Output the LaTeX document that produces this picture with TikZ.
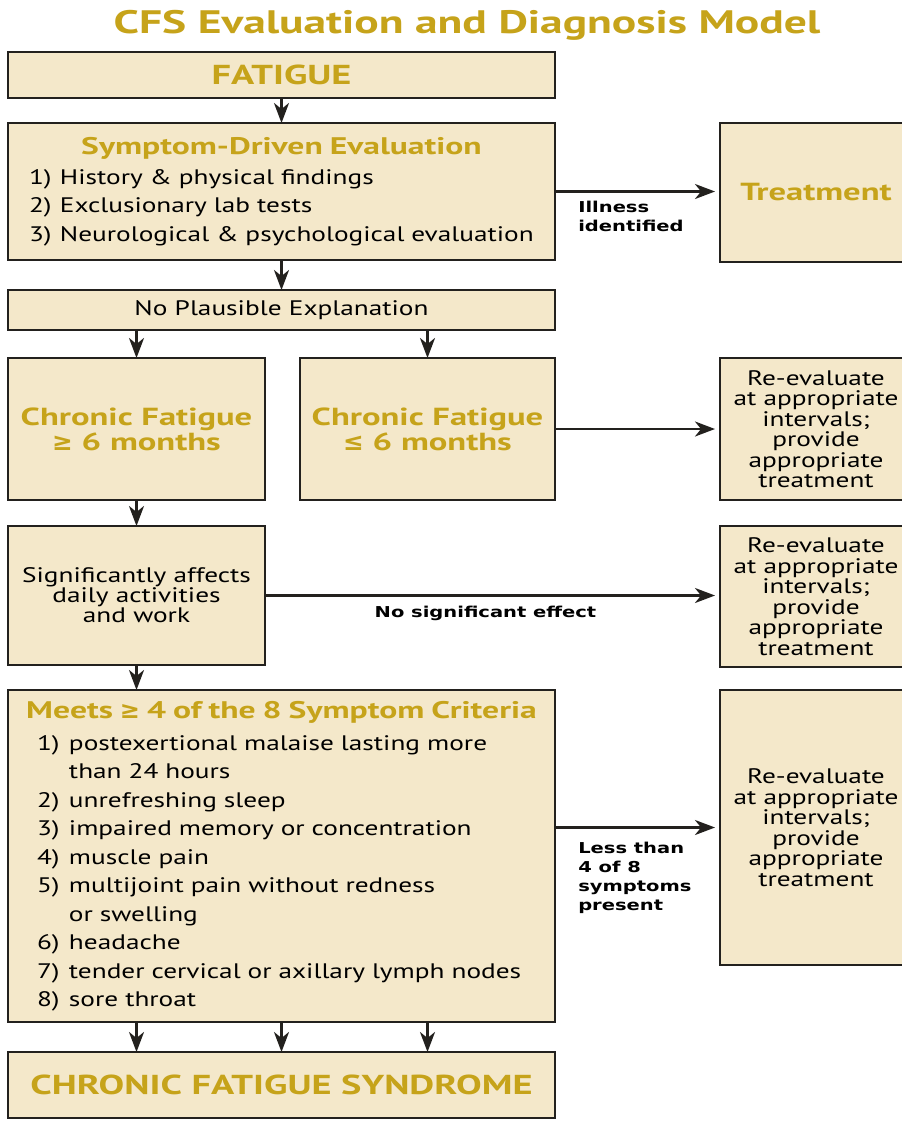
\documentclass[tikz,border=0pt]{standalone}
\usepackage{fontspec}
\setmainfont{PT Sans}[UprightFeatures={FakeStretch=1.3}, BoldFeatures={FakeStretch=1.4}]
\newfontfamily\notefont{DejaVu Sans}[FakeStretch=1.3]
\newfontfamily\symfont{DejaVu Sans}
\usetikzlibrary{positioning,arrows.meta}
\definecolor{boxfill}{RGB}{244,232,202}
\definecolor{gold}{RGB}{198,163,26}
\definecolor{edge}{RGB}{35,33,30}
\newcommand{\hd}[1]{{\color{gold}\bfseries\fontsize{24}{26}\selectfont #1}}
\newcommand{\sitem}[2]{\hspace*{10pt}\makebox[31pt][l]{#1}#2}
\newcommand{\citem}[2]{\hspace*{18pt}\makebox[32pt][l]{#1}#2}

\begin{document}
\begin{tikzpicture}[x=1pt, y=-1pt, line width=2.5pt,
  box/.style = {draw=edge, fill=boxfill, inner sep=0pt, outer sep=0pt, minimum width=547pt},
  half/.style = {box, minimum width=257pt, minimum height=142pt},
  side/.style = {box, minimum width=192pt, align=center, font=\fontsize{21}{20.5}\selectfont},
  head/.style = {text=gold, font=\bfseries\fontsize{24.7}{25}\selectfont},
  big/.style = {text=gold, font=\bfseries\fontsize{27.4}{30}\selectfont},
  list/.style = {text width=525pt, align=left, font=\fontsize{21}{28.5}\selectfont},
  note/.style = {inner sep=0pt, align=left, font=\notefont\bfseries\fontsize{15}{19}\selectfont},
  arr/.style = {draw=edge, -{Stealth[length=20pt, width=15pt, inset=6pt]}}]
	\useasboundingbox[fill=white] (0,0) rectangle (902,1122);

	\node[text=gold, font=\bfseries\fontsize{32.5}{34}\selectfont, anchor=base] (1) at (467,33) {CFS Evaluation and Diagnosis Model};
	\node[box, big, minimum height=46pt, anchor=north west] (2) at (8,52) {FATIGUE};
	\node[box, list, minimum height=137pt] (3) [below=25pt of 2] {\makebox[\linewidth]{\hd{Symptom-Driven Evaluation}}\\[1.5pt]
		\sitem{1)}{History \& physical findings}\\
		\sitem{2)}{Exclusionary lab tests}\\
		\sitem{3)}{Neurological \& psychological evaluation}};
	\node[box, minimum height=40pt, font=\fontsize{21}{24}\selectfont] (4) [below=30pt of 3] {No Plausible Explanation};
	\node[half, head, align=center] (5) [below=28pt of 4.south west, anchor=north west] {Chronic Fatigue\\{\symfont\bfseries ≥} 6 months};
	\node[half, head, align=center, minimum width=255pt] (6) [below=28pt of 4.south east, anchor=north east] {Chronic Fatigue\\{\symfont\bfseries ≤} 6 months};
	\node[side, head, minimum height=139pt] (7) [right=165pt of 3.north east, anchor=north west] {Treatment};
	\node[side, minimum height=142pt] (8) [right=165pt of 6.north east, anchor=north west] {Re-evaluate\\at appropriate\\intervals;\\provide\\appropriate\\treatment};
	\node[half, align=center, minimum height=139pt, font=\fontsize{21}{20}\selectfont] (9) [below=26pt of 5] {Significantly affects\\daily activities\\and work};
	\node[side, minimum height=141pt] (10) [right=455pt of 9.north east, anchor=north west] {Re-evaluate\\at appropriate\\intervals;\\provide\\appropriate\\treatment};
	\node[box, list, minimum height=332pt] (11) [below=25pt of 9.south west, anchor=north west] {\makebox[\linewidth]{\hd{Meets {\symfont ≥} 4 of the 8 Symptom Criteria}}\\[3.5pt]
		\citem{1)}{postexertional malaise lasting more}\\
		\citem{}{than 24 hours}\\
		\citem{2)}{unrefreshing sleep}\\
		\citem{3)}{impaired memory or concentration}\\
		\citem{4)}{muscle pain}\\
		\citem{5)}{multijoint pain without redness}\\
		\citem{}{or swelling}\\
		\citem{6)}{headache}\\
		\citem{7)}{tender cervical or axillary lymph nodes}\\
		\citem{8)}{sore throat}};
	\node[side, minimum height=275pt] (12) [right=165pt of 11.north east, anchor=north west] {Re-evaluate\\at appropriate\\intervals;\\provide\\appropriate\\treatment};
	\node[box, big, minimum height=66pt] (13) [below=30pt of 11] {CHRONIC FATIGUE SYNDROME};

	\draw[arr] (2) -- (3);
	\draw[arr] (3) -- (4);
	\draw[arr] (4.south -| 5) -- (5);
	\draw[arr] (4.south -| 6) -- (6);
	\draw[arr] (5) -- (9);
	\draw[arr] (9) -- (11.north -| 9);
	\draw[arr] (11.south -| 5) -- (13.north -| 5);
	\draw[arr] (11) -- (13);
	\draw[arr] (11.south -| 6) -- (13.north -| 6);

	\draw[arr, shorten >=5pt] (3) -- (3 -| 7.west) node[pos=0, below right=8.5pt and 22pt, note] {Illness\\identified};
	\draw[arr, shorten >=5pt] (6) -- (6 -| 8.west);
	\draw[arr, shorten >=5pt] (9) -- (9 -| 10.west) node[midway, below=9pt, xshift=-7pt, note] {No significant effect};
	\draw[arr, shorten >=5pt] (11.east |- 12) -- (12) node[pos=0, below right=13pt and 22pt, note] {Less than\\4 of 8\\symptoms\\present};
\end{tikzpicture}
\end{document}
